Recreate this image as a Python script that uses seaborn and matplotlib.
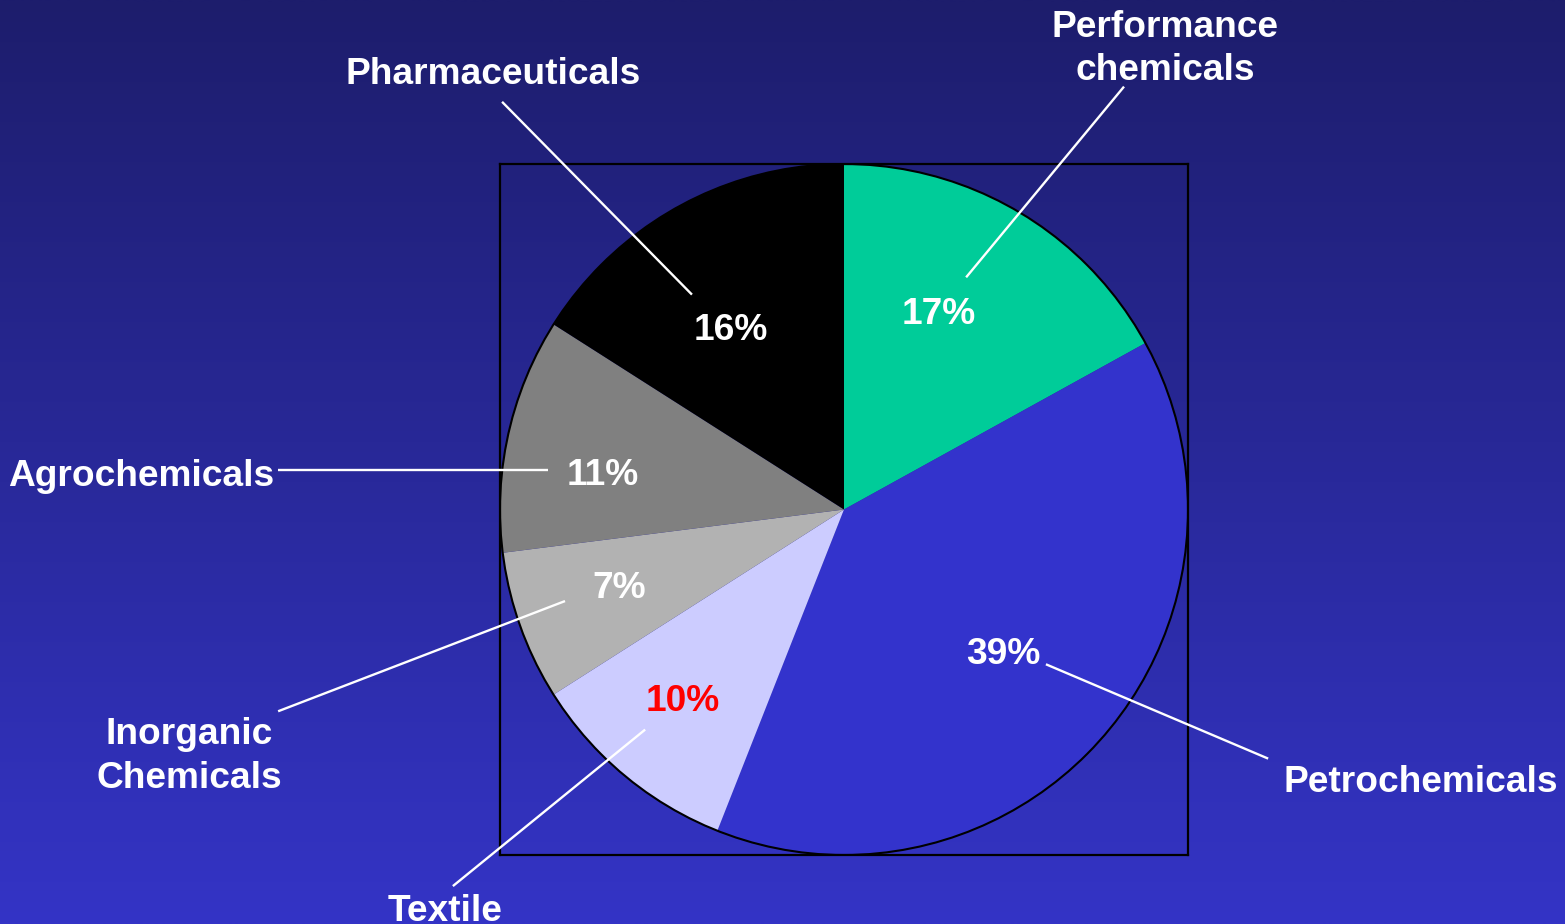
import numpy as np
import matplotlib
matplotlib.use("Agg")
import matplotlib.pyplot as plt
import seaborn as sns

sns.set_style("white")
plt.rcParams['font.family'] = ['Liberation Sans', 'DejaVu Sans']

categories = ["Performance\nchemicals", "Petrochemicals", "Textile",
              "Inorganic\nChemicals", "Agrochemicals", "Pharmaceuticals"]
shares = [17, 39, 10, 7, 11, 16]
colors = ["#00CC99", "#3333CC", "#CCCCFF", "#B2B2B2", "#808080", "#000000"]
pct_colors = ["white", "white", "red", "white", "white", "white"]

# layout (data coords of the pie axes, radius 1)
pct_pos = [(0.276, 0.564), (0.462, -0.419), (-0.468, -0.556),
           (-0.654, -0.230), (-0.701, 0.099), (-0.328, 0.517)]
label_pos = [(0.933, 1.334), (1.677, -0.791), (-1.160, -1.163),
             (-1.904, -0.715), (-2.044, 0.096), (-1.020, 1.258)]
leaders = [((0.814, 1.224), (0.355, 0.672)),
           ((0.587, -0.448), (1.233, -0.721)),
           ((-1.137, -1.090), (-0.578, -0.637)),
           ((-1.645, -0.584), (-0.811, -0.265)),
           ((-1.645, 0.113), (-0.860, 0.113)),
           ((-0.994, 1.180), (-0.442, 0.622))]

W, H = 1565, 924
fig = plt.figure(figsize=(W / 100, H / 100), dpi=100)

# gradient background
bg = fig.add_axes([0, 0, 1, 1], zorder=0)
top = np.array([0x1D, 0x1D, 0x6C]) / 255
bot = np.array([0x34, 0x34, 0xC6]) / 255
t = np.linspace(0, 1, 256)[:, None, None]
grad = top * (1 - t) + bot * t
grad = np.repeat(grad, 2, axis=1)
bg.imshow(grad, aspect='auto', extent=[0, 1, 0, 1], interpolation='bilinear')
bg.set_axis_off()

ax = fig.add_axes([500 / W, (H - 855) / H, 688 / W, 691 / H], zorder=1)
ax.set_facecolor('none')
wedges, _, autotexts = ax.pie(shares, colors=colors, startangle=90, counterclock=False,
                              radius=1, autopct='%1.0f%%', frame=True,
                              wedgeprops=dict(linewidth=0),
                              textprops=dict(color='white', fontsize=26.7, fontweight='bold'))
ax.add_patch(plt.Circle((0, 0), 1, fill=False, edgecolor='black', linewidth=1.5, zorder=3))
ax.set_aspect('auto')
ax.set_xlim(-1, 1)
ax.set_ylim(-1, 1)
ax.set_xticks([])
ax.set_yticks([])
ax.set_frame_on(True)
for s in ax.spines.values():
    s.set_visible(True)
    s.set_color('black')
    s.set_linewidth(1.6)

for at, p, c in zip(autotexts, pct_pos, pct_colors):
    at.set_position(p)
    at.set_color(c)
    at.set_ha('center')
    at.set_va('center')
    at.set_zorder(5)

for lab, p, (a, b) in zip(categories, label_pos, leaders):
    ax.text(p[0], p[1], lab, color='white', fontsize=26.7, fontweight='bold',
            ha='center', va='center', linespacing=1.3, clip_on=False, zorder=5)
    ax.plot([a[0], b[0]], [a[1], b[1]], color='white', linewidth=1.7,
            clip_on=False, zorder=4, solid_capstyle='butt')

fig.savefig("out.png", dpi=100)
